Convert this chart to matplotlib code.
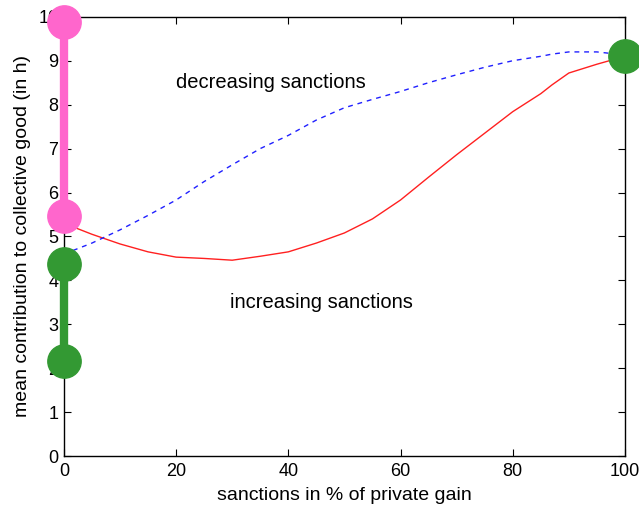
import matplotlib
matplotlib.use("Agg")
import matplotlib.pyplot as plt

plt.rcParams['font.family'] = ['Liberation Sans', 'DejaVu Sans']

# Sanction levels (% of private gain) and mean contributions
sanction = [0, 5, 10, 15, 20, 25, 30, 35, 40, 45, 50, 55, 60, 65, 70, 75, 80, 85, 87, 90, 95, 100]
increasing = [5.3, 5.05, 4.83, 4.65, 4.53, 4.5, 4.46, 4.55, 4.65, 4.85, 5.08, 5.4, 5.83,
              6.35, 6.86, 7.35, 7.84, 8.25, 8.45, 8.72, 8.92, 9.1]
decreasing = [4.6, 4.85, 5.15, 5.48, 5.83, 6.25, 6.63, 7.0, 7.3, 7.65, 7.93, 8.12, 8.3,
              8.5, 8.68, 8.85, 9.0, 9.1, 9.15, 9.2, 9.2, 9.13]

# Endpoint markers
pink_x = [0, 0]
pink_y = [9.88, 5.47]
green_x = [0, 0]
green_y = [4.37, 2.17]
green_end_x = [100]
green_end_y = [9.11]

fig = plt.figure(figsize=(6.39, 5.08), dpi=100)
ax = fig.add_axes([0.100, 0.102, 0.878, 0.865])

ax.plot(sanction, increasing, color='#ff2020', lw=1.0, zorder=2)
ax.plot(sanction, decreasing, color='#2020ff', lw=1.0, ls=(0, (3.5, 3.5)), zorder=2)

ax.plot(pink_x, pink_y, color='#ff66cc', lw=6, marker='o', ms=24,
        clip_on=False, zorder=3)
ax.plot(green_x, green_y, color='#339933', lw=6, marker='o', ms=24,
        clip_on=False, zorder=3)
ax.plot(green_end_x, green_end_y, color='#339933', ls='none', marker='o', ms=24,
        clip_on=False, zorder=3)

ax.text(20, 8.5, 'decreasing sanctions', fontsize=14.5, va='center', ha='left')
ax.text(29.6, 3.5, 'increasing sanctions', fontsize=14.5, va='center', ha='left')

ax.set_xlim(0, 100)
ax.set_ylim(0, 10)
ax.set_xticks([0, 20, 40, 60, 80, 100])
ax.set_yticks(range(0, 11))
ax.tick_params(direction='in', top=True, right=True, length=5, labelsize=13)
ax.tick_params(axis='x', pad=5)
ax.tick_params(axis='y', pad=4)
for s in ax.spines.values():
    s.set_linewidth(1.0)

ax.set_xlabel('sanctions in % of private gain', fontsize=14, labelpad=5)
ax.set_ylabel('mean contribution to collective good (in h)', fontsize=14, labelpad=5)

fig.savefig('out.png', dpi=100)
